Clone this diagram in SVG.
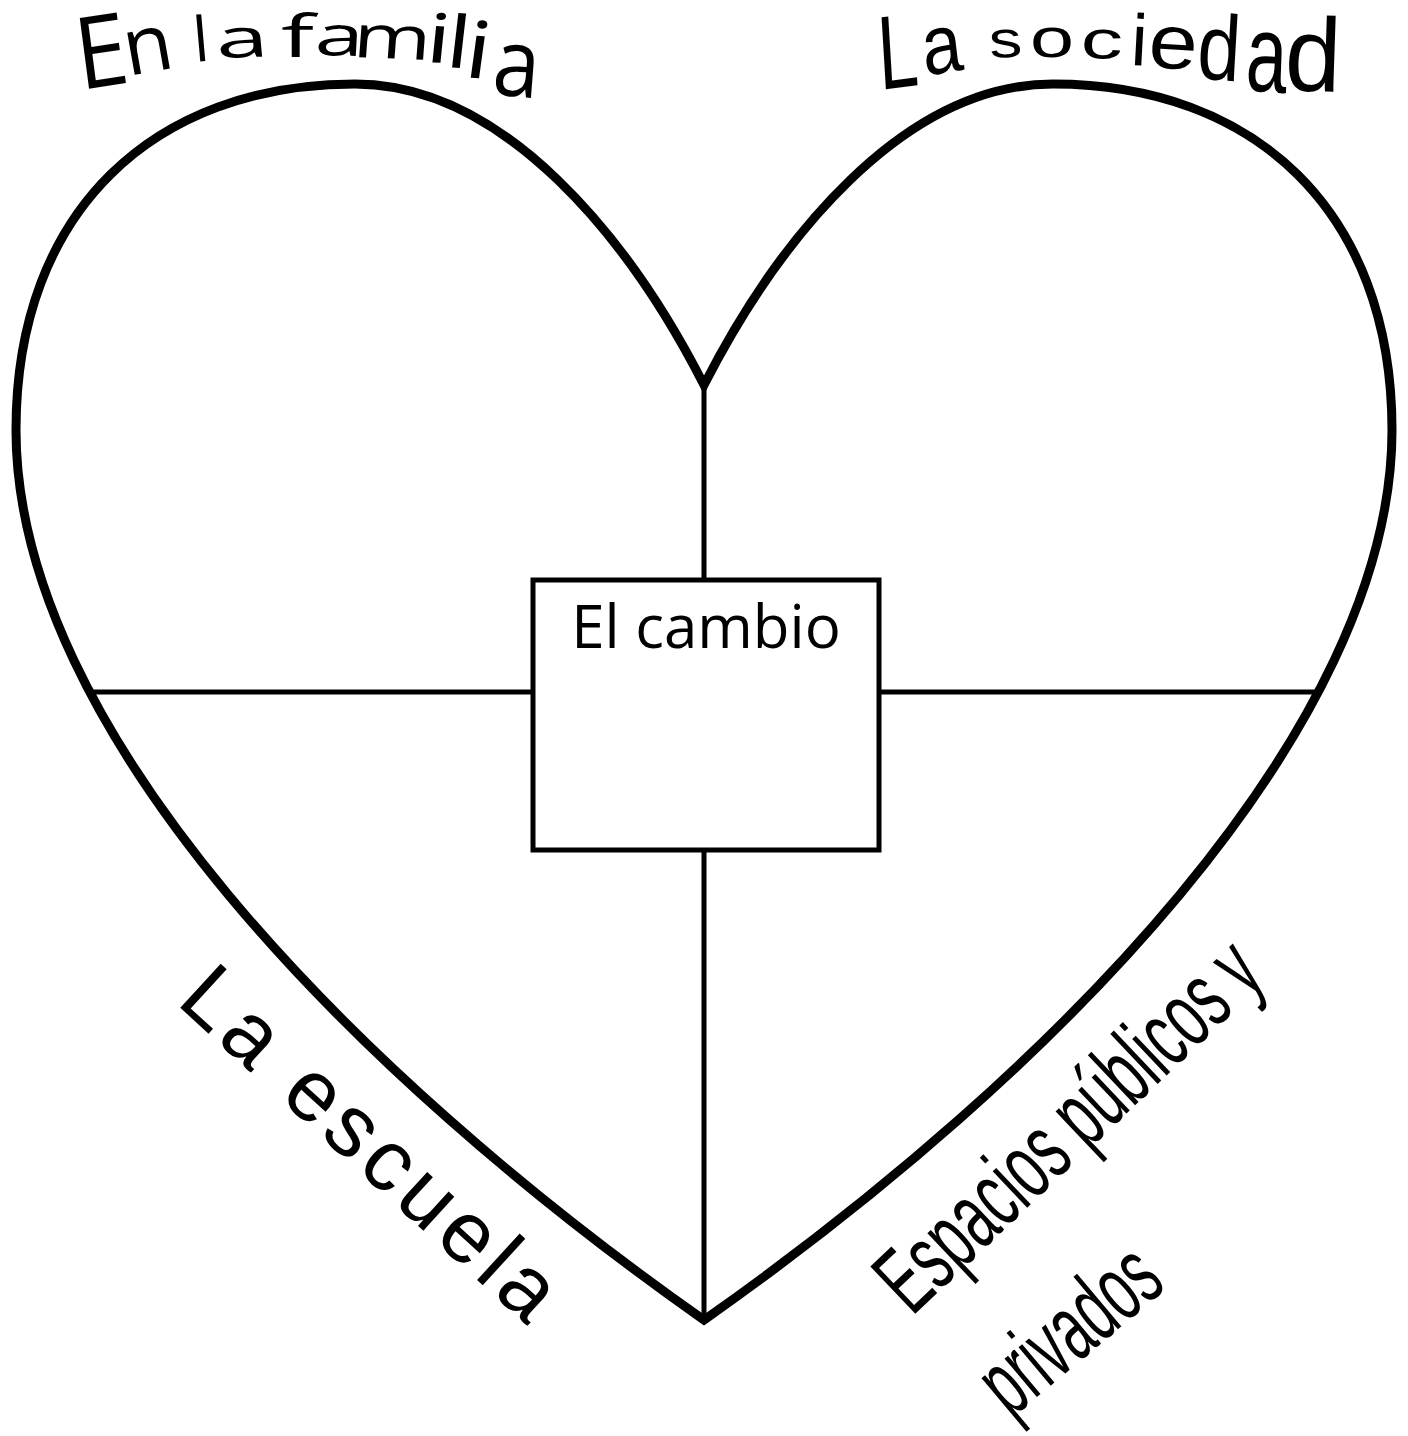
<svg xmlns="http://www.w3.org/2000/svg" width="1408" height="1436" viewBox="0 0 1408 1436">
<style>
.heart{fill:none;stroke:#000;stroke-width:9;stroke-linejoin:miter}
.ln{fill:none;stroke:#000;stroke-width:5}
.box{fill:#fff;stroke:#000;stroke-width:5}
.t{fill:#000}
.os{font-family:"Open Sans","Noto Sans",sans-serif}
.ls{font-family:"Liberation Sans",Arial,sans-serif}
</style>
<rect width="1408" height="1436" fill="#fff"/>
<g id="heart">
<path class="heart" d="M 704 385 C 630 240 505 84 355 84 C 155 84 16 210 16 430 C 16 730 353 1073 704 1320 C 1055 1073 1392 730 1392 430 C 1392 210 1253 84 1053 84 C 903 84 778 240 704 385 Z"/>
</g>
<g id="connectors">
<line class="ln" x1="704" y1="385" x2="704" y2="580"/>
<line class="ln" x1="704" y1="850" x2="704" y2="1320"/>
<line class="ln" x1="86" y1="692" x2="533" y2="692"/>
<line class="ln" x1="879" y1="692" x2="1322" y2="692"/>
</g>
<g id="node-cambio">
<rect class="box" x="533" y="580" width="346" height="270"/>
<text class="t os" x="706" y="648" font-size="60" text-anchor="middle">El cambio</text>
</g>
<g id="label-familia">
<text class="t os"><tspan x="80" y="90" font-size="100" rotate="-8" textLength="52" lengthAdjust="spacingAndGlyphs">E</tspan><tspan x="128" y="76" font-size="80" rotate="-10" textLength="49" lengthAdjust="spacingAndGlyphs">n</tspan><tspan> </tspan><tspan x="195" y="62" font-size="62" rotate="-5">l</tspan><tspan x="217" y="58" font-size="54" rotate="-3" textLength="53" lengthAdjust="spacingAndGlyphs">a</tspan><tspan> </tspan><tspan x="281" y="57" font-size="58" textLength="33" lengthAdjust="spacingAndGlyphs">f</tspan><tspan x="314" y="55" font-size="56" rotate="2" textLength="49" lengthAdjust="spacingAndGlyphs">a</tspan><tspan x="352" y="57" font-size="60" rotate="3" textLength="78" lengthAdjust="spacingAndGlyphs">m</tspan><tspan x="424" y="62" font-size="68" rotate="4" textLength="25" lengthAdjust="spacingAndGlyphs">i</tspan><tspan x="444" y="67" font-size="72" rotate="5" textLength="24" lengthAdjust="spacingAndGlyphs">l</tspan><tspan x="462" y="77" font-size="79" rotate="6" textLength="26" lengthAdjust="spacingAndGlyphs">i</tspan><tspan x="491" y="94" font-size="95" rotate="5" textLength="47" lengthAdjust="spacingAndGlyphs">a</tspan></text>
</g>
<g id="label-sociedad">
<text class="t ls"><tspan x="880" y="90" font-size="105" rotate="-5" textLength="40" lengthAdjust="spacingAndGlyphs">L</tspan><tspan x="925" y="76" font-size="84" rotate="-8" textLength="40" lengthAdjust="spacingAndGlyphs">a</tspan><tspan> </tspan><tspan x="990" y="58" font-size="52" rotate="-3" textLength="33" lengthAdjust="spacingAndGlyphs">s</tspan><tspan x="1030" y="57" font-size="56" textLength="44" lengthAdjust="spacingAndGlyphs">o</tspan><tspan x="1080" y="58" font-size="54" rotate="2" textLength="42" lengthAdjust="spacingAndGlyphs">c</tspan><tspan x="1130" y="65" font-size="73" rotate="3">i</tspan><tspan x="1147" y="67" font-size="77" rotate="4" textLength="49" lengthAdjust="spacingAndGlyphs">e</tspan><tspan x="1196" y="78" font-size="93" rotate="4" textLength="43" lengthAdjust="spacingAndGlyphs">d</tspan><tspan x="1245" y="90" font-size="110" rotate="3" textLength="41" lengthAdjust="spacingAndGlyphs">a</tspan><tspan x="1284" y="90" font-size="105" rotate="2" textLength="56" lengthAdjust="spacingAndGlyphs">d</tspan></text>
</g>
<g id="label-escuela">
<text class="t ls" x="0" y="0" font-size="87" textLength="478" lengthAdjust="spacing" transform="translate(175 1003) rotate(42.5)">La escuela</text>
</g>
<g id="label-espacios">
<text class="t ls" x="0" y="0" font-size="95" textLength="490" lengthAdjust="spacingAndGlyphs" transform="translate(912 1317) rotate(-43.5)">Espacios públicos y</text>
<text class="t ls" x="0" y="0" font-size="95" textLength="205" lengthAdjust="spacingAndGlyphs" transform="translate(1011 1419) rotate(-40)">privados</text>
</g>
</svg>
